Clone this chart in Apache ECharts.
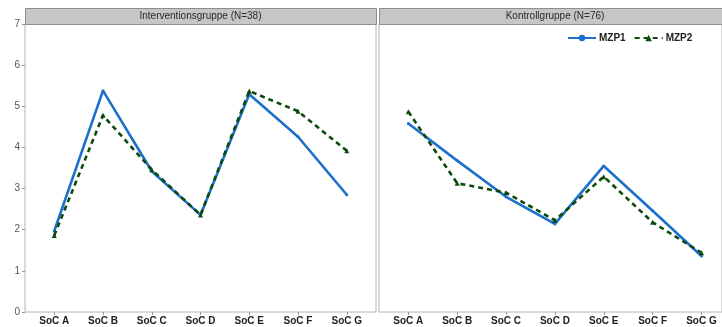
<!DOCTYPE html>
<html>
<head>
<meta charset="utf-8">
<script src="https://cdn.jsdelivr.net/npm/echarts@6/dist/echarts.min.js"></script>
<style>
  html, body { margin: 0; padding: 0; background: #fff; }
  #chart { width: 722px; height: 327px; }
</style>
</head>
<body>
<div id="chart"></div>
<script>
// Sense-of-Coherence subscales, two measurement points, per group
const categories = ['SoC A', 'SoC B', 'SoC C', 'SoC D', 'SoC E', 'SoC F', 'SoC G'];
const panelTitles = ['Interventionsgruppe (N=38)', 'Kontrollgruppe (N=76)'];
const yTicks = [0, 1, 2, 3, 4, 5, 6, 7];

const interventionMZP1 = [1.97, 5.38, 3.42, 2.36, 5.29, 4.26, 2.85];
const interventionMZP2 = [1.86, 4.78, 3.46, 2.36, 5.37, 4.88, 3.92];
const kontrollMZP1 = [4.58, 3.68, 2.80, 2.14, 3.55, 2.46, 1.36];
const kontrollMZP2 = [4.87, 3.13, 2.90, 2.23, 3.29, 2.18, 1.44];

const BLUE = '#1c6fcb';
const GREEN = '#0d4a0d';

const toPoints = vals => vals.map((v, i) => [i, v]);

// The second panel runs off the right edge of the canvas
const panels = [
  { left: 25, width: 351, xMin: -0.6, xMax: 6.6, showY: true },
  { left: 379, width: 343, xMin: -0.6, xMax: 6.42, showY: false }
];
const TOP = 24, HEIGHT = 288, STRIP_TOP = 8;

const grids = panels.map(p => ({
  left: p.left, top: TOP, width: p.width, height: HEIGHT,
  show: true, borderColor: '#b4b4b4', borderWidth: 1, backgroundColor: '#ffffff'
}));

const tickPositions = categories.map((c, i) => i);

const xAxes = panels.map((p, k) => ({
  type: 'value', gridIndex: k, min: p.xMin, max: p.xMax,
  splitLine: { show: false },
  axisLine: { show: false, onZero: false },
  axisTick: { show: true, length: 3, lineStyle: { color: '#999' }, customValues: tickPositions },
  axisLabel: {
    customValues: tickPositions,
    formatter: v => categories[Math.round(v)],
    fontFamily: 'Liberation Sans, Arial, sans-serif',
    fontWeight: 'bold', fontSize: 10, color: '#222', margin: 4
  }
}));

const yAxes = panels.map((p, k) => ({
  type: 'value', gridIndex: k, min: 0, max: 7, interval: 1,
  splitLine: { show: false },
  axisLine: { show: false, onZero: false },
  axisTick: { show: p.showY, length: 3, lineStyle: { color: '#999' } },
  axisLabel: {
    show: p.showY, fontFamily: 'Liberation Sans, Arial, sans-serif',
    fontSize: 10, color: '#555', margin: 5,
    formatter: v => yTicks.includes(v) ? String(v) : ''
  }
}));

function lineSeries(name, data, k, isSecond) {
  return {
    name, type: 'line', xAxisIndex: k, yAxisIndex: k,
    data: toPoints(data),
    symbol: isSecond ? 'triangle' : 'circle',
    symbolSize: isSecond ? 5 : 3,
    itemStyle: { color: isSecond ? GREEN : BLUE },
    lineStyle: isSecond
      ? { color: GREEN, width: 2.6, type: [5, 4] }
      : { color: BLUE, width: 2.6 },
    z: isSecond ? 3 : 2,
    animation: false
  };
}

// Facet strips drawn above each panel
const strips = panels.map((p, k) => ({
  type: 'group',
  children: [
    { type: 'rect', shape: { x: p.left + 0.5, y: STRIP_TOP + 0.5, width: p.width + (k === 1 ? 10 : 0), height: TOP - STRIP_TOP },
      style: { fill: '#c6c6c6', stroke: '#8e8e8e', lineWidth: 1 } },
    { type: 'text', x: p.left + (k === 0 ? p.width / 2 : 176), y: STRIP_TOP + (TOP - STRIP_TOP) / 2 + 0.5,
      style: { text: panelTitles[k], fontFamily: 'Liberation Sans, Arial, sans-serif', fontSize: 10,
               fill: '#2a2a2a', align: 'center', verticalAlign: 'middle' } }
  ]
}));

const chart = echarts.init(document.getElementById('chart'), null, { renderer: 'canvas' });
chart.setOption({
  animation: false,
  backgroundColor: '#ffffff',
  grid: grids,
  xAxis: xAxes,
  yAxis: yAxes,
  legend: {
    top: 28, left: 562,
    itemWidth: 28, itemHeight: 8, itemGap: 8,
    textStyle: { fontFamily: 'Liberation Sans, Arial, sans-serif', fontWeight: 'bold', fontSize: 10, color: '#222', padding: [0, 0, 0, -2] },
    data: ['MZP1', 'MZP2']
  },
  graphic: strips,
  series: [
    lineSeries('MZP1', interventionMZP1, 0, false),
    lineSeries('MZP2', interventionMZP2, 0, true),
    lineSeries('MZP1', kontrollMZP1, 1, false),
    lineSeries('MZP2', kontrollMZP2, 1, true)
  ]
});
</script>
</body>
</html>
